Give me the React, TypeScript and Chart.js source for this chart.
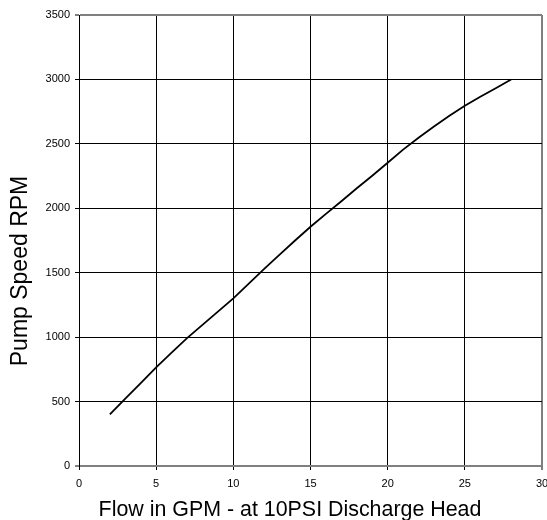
import React, { useEffect, useRef } from "react";
import { Chart, registerables } from "chart.js";

Chart.register(...registerables);

const flowGpm = [2, 3, 4, 5, 6, 7, 8, 9, 10, 11, 12, 13, 14, 15, 16, 17, 18, 19, 20, 21, 22, 23, 24, 25, 26, 27, 28];
const pumpRpm = [400, 522, 644, 766, 880, 992, 1095, 1198, 1301, 1415, 1530, 1640, 1750, 1857, 1957, 2055, 2155, 2253, 2353, 2455, 2548, 2635, 2718, 2795, 2865, 2932, 3000];

const xTitle = "Flow in GPM - at 10PSI Discharge Head";
const yTitle = "Pump Speed RPM";

const FONT = "'Liberation Sans', Arial, sans-serif";

const titlePlugin = {
  id: "axisTitles",
  afterDraw(chart: any) {
    const ctx = chart.ctx;
    ctx.save();
    ctx.fillStyle = "#000";
    ctx.font = `21.4px ${FONT}`;
    ctx.textAlign = "center";
    ctx.textBaseline = "alphabetic";
    ctx.fillText(xTitle, 290, 516);
    ctx.translate(27, 271);
    ctx.rotate(-Math.PI / 2);
    ctx.font = `23px ${FONT}`;
    ctx.fillText(yTitle, 0, 0);
    ctx.restore();
  },
};

export default function App() {
  const ref = useRef<HTMLCanvasElement>(null);
  useEffect(() => {
    if (!ref.current) return;
    const chart = new Chart(ref.current, {
      type: "scatter",
      data: {
        datasets: [
          {
            data: flowGpm.map((x, i) => ({ x, y: pumpRpm[i] })),
            showLine: true,
            borderColor: "#000",
            borderWidth: 1.8,
            pointRadius: 0,
            tension: 0,
          },
        ],
      },
      options: {
        animation: false,
        responsive: true,
        maintainAspectRatio: false,
        layout: { padding: { top: 15, right: 5, left: 0, bottom: 0 } },
        plugins: { legend: { display: false }, tooltip: { enabled: false } },
        scales: {
          x: {
            type: "linear",
            min: 0,
            max: 30,
            ticks: {
              stepSize: 5,
              color: "#000",
              font: { family: FONT, size: 11 },
              padding: 7,
              maxRotation: 0,
              callback: (v: any) => String(v),
            },
            grid: {
              color: (c: any) => (c.tick && c.tick.value === 30 ? "#808080" : "#000"),
              lineWidth: (c: any) => (c.tick && c.tick.value === 30 ? 2 : 1),
              tickColor: "#000",
              tickLength: 4,
              tickWidth: 1,
            },
            border: { display: true, color: "#808080", width: 2 },
            afterFit: (s: any) => {
              s.height = 54;
              s.paddingLeft = 0;
              s.paddingRight = 0;
            },
          },
          y: {
            min: 0,
            max: 3500,
            ticks: {
              stepSize: 500,
              color: "#000",
              font: { family: FONT, size: 11 },
              padding: 5,
              callback: (v: any) => String(v),
            },
            grid: {
              color: (c: any) => (c.tick && (c.tick.value === 3500 || c.tick.value === 0) ? "#808080" : "#000"),
              lineWidth: (c: any) => (c.tick && (c.tick.value === 3500 || c.tick.value === 0) ? 2 : 1),
              tickColor: "#000",
              tickLength: 4,
              tickWidth: 1,
            },
            border: { display: true, color: "#000", width: 1 },
            afterFit: (s: any) => {
              s.width = 79;
              s.paddingTop = 0;
              s.paddingBottom = 0;
            },
          },
        },
      },
      plugins: [titlePlugin],
    });
    return () => chart.destroy();
  }, []);
  return (
    <div style={{ position: "absolute", left: 0, top: 0, width: 547, height: 520, background: "#fff" }}>
      <canvas ref={ref} />
    </div>
  );
}
